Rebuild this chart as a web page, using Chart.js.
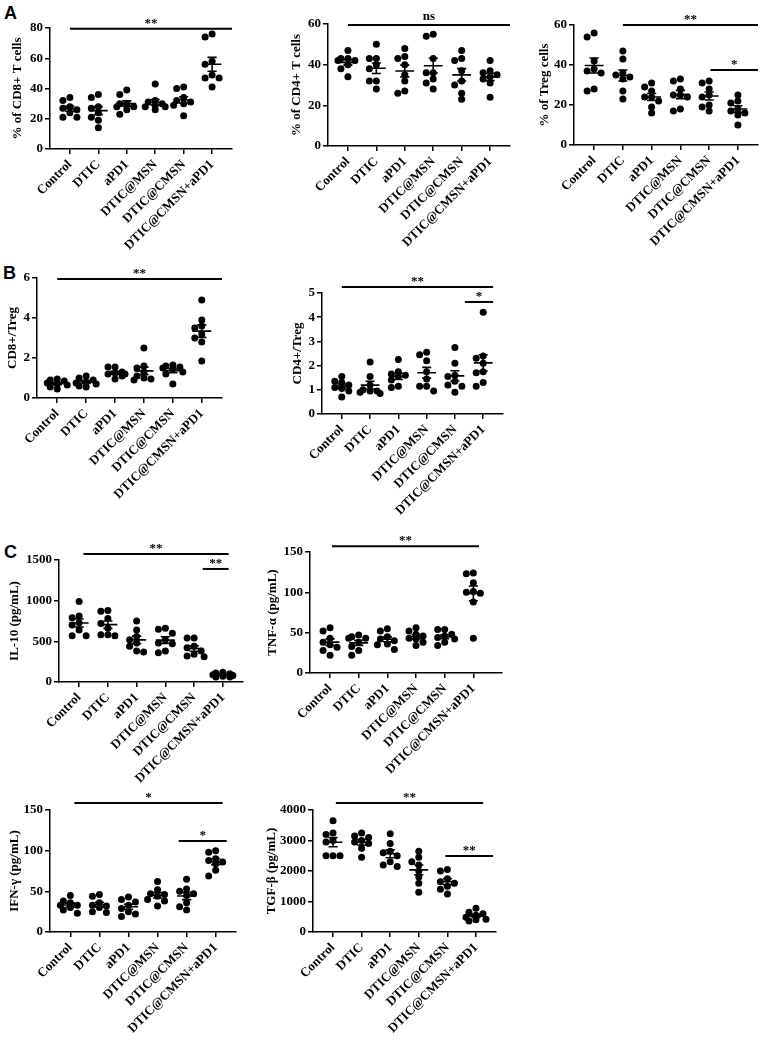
<!DOCTYPE html>
<html>
<head>
<meta charset="utf-8">
<script src="https://cdn.jsdelivr.net/npm/chart.js@4.4.0/dist/chart.umd.min.js"></script>
<style>
  body { margin: 0; background: #fff; width: 766px; height: 1044px; position: relative; overflow: hidden; }
  canvas { position: absolute; }
  .tag { position: absolute; font: bold 18px "Liberation Sans", Arial, sans-serif; line-height: 1; color: #000; }
</style>
</head>
<body>
<div class="tag" style="left:4px;top:4px">A</div>
<div class="tag" style="left:3px;top:264px">B</div>
<div class="tag" style="left:4px;top:543px">C</div>
<script>
const groups = ['Control', 'DTIC', 'aPD1', 'DTIC@MSN', 'DTIC@CMSN', 'DTIC@CMSN+aPD1'];

// A - % of CD8+ T cells
const cd8Values = [
  [34, 32, 28, 27, 26, 24, 21, 21],
  [36, 34, 28, 27, 24, 21, 19, 14],
  [39, 36, 30, 30, 28, 28, 26, 23],
  [43, 32, 31, 30, 29, 28, 28, 26],
  [41, 40, 34, 32, 31, 30, 29, 22],
  [76, 74, 58, 56, 49, 47, 47, 41]
];
const cd8Ticks = [0, 20, 40, 60, 80];
const cd8Sig = [{ from: 1, to: 6.7, at: 79.5, text: '**' }];

// A - % of CD4+ T cells
const cd4Values = [
  [47, 43, 43, 42, 42, 40, 38, 34],
  [50, 43, 43, 40, 38, 32, 32, 28],
  [48, 44, 43, 40, 35, 32, 27, 26],
  [55, 54, 43, 36, 36, 33, 31, 28],
  [47, 43, 42, 37, 32, 30, 26, 23],
  [42, 37, 36, 35, 34, 33, 31, 24]
];
const cd4Ticks = [0, 20, 40, 60];
const cd4Sig = [{ from: 1, to: 6.7, at: 59.5, text: 'ns' }];

// A - % of Treg cells
const tregValues = [
  [56, 54, 42, 38, 37, 36, 28, 27],
  [47, 43, 36, 35, 34, 33, 27, 23],
  [31, 29, 27, 24, 24, 22, 19, 16],
  [33, 32, 28, 25, 25, 24, 18, 17],
  [32, 31, 28, 25, 24, 20, 19, 17],
  [25, 22, 21, 18, 17, 16, 15, 10]
];
const tregTicks = [0, 20, 40, 60];
const tregSig = [
  { from: 2, to: 6.7, at: 60, text: '**' },
  { from: 5.05, to: 6.7, at: 37.5, text: '*' }
];

// B - CD8+/Treg
const cd8TregValues = [
  [0.95, 0.9, 0.85, 0.75, 0.7, 0.65, 0.55, 0.45],
  [1.1, 1.0, 0.9, 0.8, 0.75, 0.7, 0.6, 0.55],
  [1.55, 1.55, 1.3, 1.25, 1.2, 1.2, 1.1, 0.95],
  [2.5, 1.6, 1.5, 1.3, 1.1, 1.0, 0.95, 0.9],
  [1.65, 1.6, 1.55, 1.5, 1.45, 1.3, 1.2, 0.7],
  [4.9, 3.9, 3.6, 3.5, 3.2, 3.0, 2.8, 1.85]
];
const cd8TregTicks = [0, 2, 4, 6];
const cd8TregSig = [{ from: 1, to: 6.7, at: 5.95, text: '**' }];

// B - CD4+/Treg
const cd4TregValues = [
  [1.55, 1.35, 1.3, 1.2, 1.1, 1.05, 0.95, 0.7],
  [2.15, 1.55, 1.2, 1.0, 0.95, 0.95, 0.9, 0.85],
  [2.25, 1.75, 1.65, 1.6, 1.55, 1.4, 1.15, 1.1],
  [2.55, 2.45, 2.2, 1.75, 1.45, 1.15, 1.15, 0.95],
  [2.75, 2.1, 1.6, 1.55, 1.35, 1.2, 1.15, 0.9],
  [4.2, 2.4, 2.3, 2.1, 1.75, 1.7, 1.3, 1.15]
];
const cd4TregTicks = [0, 1, 2, 3, 4, 5];
const cd4TregSig = [
  { from: 1, to: 6.35, at: 5.25, text: '**' },
  { from: 5.35, to: 6.35, at: 4.63, text: '*' }
];

// C - IL-10
const il10Values = [
  [990, 810, 790, 730, 700, 640, 570, 570],
  [880, 870, 780, 720, 660, 580, 580, 570],
  [750, 640, 560, 520, 480, 440, 380, 370],
  [660, 650, 600, 520, 480, 470, 380, 360],
  [540, 540, 440, 420, 380, 340, 320, 310],
  [120, 110, 100, 90, 80, 70, 60, 60]
];
const il10Ticks = [0, 500, 1000, 1500];
const il10Sig = [
  { from: 1.15, to: 6.2, at: 1575, text: '**' },
  { from: 5.3, to: 6.2, at: 1390, text: '**' }
];

// C - TNF-α
const tnfValues = [
  [56, 52, 43, 38, 35, 32, 28, 22],
  [47, 45, 43, 43, 38, 33, 28, 22],
  [55, 52, 45, 42, 40, 36, 35, 29],
  [56, 52, 48, 46, 43, 42, 38, 34],
  [54, 54, 48, 46, 44, 42, 38, 34],
  [124, 123, 112, 101, 100, 99, 88, 43]
];
const tnfTicks = [0, 50, 100, 150];
const tnfSig = [{ from: 1.07, to: 6.2, at: 157, text: '**' }];

// C - IFN-γ
const ifnValues = [
  [45, 38, 36, 33, 33, 30, 27, 23],
  [46, 44, 36, 33, 32, 30, 25, 24],
  [43, 40, 37, 33, 29, 25, 22, 19],
  [62, 52, 47, 46, 44, 40, 38, 32],
  [65, 53, 50, 47, 45, 36, 31, 27],
  [100, 98, 90, 88, 86, 84, 76, 69]
];
const ifnTicks = [0, 50, 100, 150];
const ifnSig = [
  { from: 1.14, to: 6.24, at: 158.6, text: '*' },
  { from: 4.73, to: 6.38, at: 112, text: '*' }
];

// C - TGF-β
const tgfValues = [
  [3650, 3250, 3200, 3000, 2950, 2500, 2500, 2500],
  [3250, 3150, 3100, 3000, 2950, 2900, 2750, 2450],
  [3220, 2900, 2650, 2600, 2500, 2300, 2200, 2150],
  [2650, 2450, 2300, 2200, 2000, 1800, 1600, 1300],
  [2050, 2000, 1750, 1650, 1600, 1500, 1400, 1250],
  [780, 650, 600, 550, 480, 420, 400, 360]
];
const tgfTicks = [0, 1000, 2000, 3000, 4000];
const tgfSig = [
  { from: 1.1, to: 6.25, at: 4230, text: '**' },
  { from: 4.93, to: 6.6, at: 2490, text: '**' }
];

const X_MIN = 0.3, X_MAX = 6.7;
const SERIF = '"Liberation Serif", "Times New Roman", serif';

// where each plot sits on the page (axis corner, right end, top, bottom, title gap)
const panels = [
  { title: '% of CD8+ T cells', values: cd8Values, ticks: cd8Ticks, sig: cd8Sig, box: { x: 50, r: 232, t: 28, b: 149, gap: 32 } },
  { title: '% of CD4+ T cells', values: cd4Values, ticks: cd4Ticks, sig: cd4Sig, box: { x: 328, r: 510, t: 24, b: 146, gap: 31 } },
  { title: '% of Treg cells', values: tregValues, ticks: tregTicks, sig: tregSig, box: { x: 574, r: 758, t: 25, b: 145, gap: 29 } },
  { title: 'CD8+/Treg', values: cd8TregValues, ticks: cd8TregTicks, sig: cd8TregSig, box: { x: 37, r: 222, t: 278, b: 398, gap: 24 } },
  { title: 'CD4+/Treg', values: cd4TregValues, ticks: cd4TregTicks, sig: cd4TregSig, box: { x: 322, r: 503, t: 293, b: 414, gap: 24 } },
  { title: 'IL-10 (pg/mL)', values: il10Values, ticks: il10Ticks, sig: il10Sig, box: { x: 59, r: 243, t: 560, b: 682, gap: 44 } },
  { title: 'TNF-α (pg/mL)', values: tnfValues, ticks: tnfTicks, sig: tnfSig, box: { x: 310, r: 502, t: 552, b: 673, gap: 37, xMax: 7.0 } },
  { title: 'IFN-γ (pg/mL)', values: ifnValues, ticks: ifnTicks, sig: ifnSig, box: { x: 50, r: 236, t: 810, b: 932, gap: 35 } },
  { title: 'TGF-β (pg/mL)', values: tgfValues, ticks: tgfTicks, sig: tgfSig, box: { x: 313, r: 496, t: 810, b: 932, gap: 41 } }
];

// spread points of similar value sideways, like a column scatter
function swarm(vals, pxY) {
  const placed = [];
  const offsets = [0, -7, 7, -10, 10];
  return vals.map(v => {
    const py = v * pxY;
    let best = 0, bestDist = -1;
    for (const dx of offsets) {
      const d = placed.length ? Math.min(...placed.map(p => Math.hypot(p.dx - dx, p.py - py))) : Infinity;
      if (d >= 6) { best = dx; bestDist = d; break; }
      if (d > bestDist) { best = dx; bestDist = d; }
    }
    placed.push({ dx: best, py });
    return best;
  });
}

const meanSem = {
  id: 'meanSem',
  afterDatasetsDraw(chart, args, opts) {
    const { ctx, scales: { x, y } } = chart;
    ctx.save();
    ctx.strokeStyle = '#000';
    ctx.lineWidth = 1.6;
    opts.values.forEach((vals, i) => {
      const n = vals.length;
      const m = vals.reduce((a, b) => a + b, 0) / n;
      const sd = Math.sqrt(vals.reduce((a, b) => a + (b - m) ** 2, 0) / (n - 1));
      const sem = sd / Math.sqrt(n);
      const c = i + 1;
      const cx = x.getPixelForValue(c);
      const yHi = y.getPixelForValue(m + sem), yLo = y.getPixelForValue(m - sem), yM = y.getPixelForValue(m);
      ctx.beginPath();
      ctx.moveTo(x.getPixelForValue(c - 0.33), yM);
      ctx.lineTo(x.getPixelForValue(c + 0.33), yM);
      ctx.moveTo(cx, yHi);
      ctx.lineTo(cx, yLo);
      ctx.moveTo(x.getPixelForValue(c - 0.16), yHi);
      ctx.lineTo(x.getPixelForValue(c + 0.16), yHi);
      ctx.moveTo(x.getPixelForValue(c - 0.16), yLo);
      ctx.lineTo(x.getPixelForValue(c + 0.16), yLo);
      ctx.stroke();
    });
    ctx.restore();
  }
};

const sigBars = {
  id: 'sigBars',
  afterDraw(chart, args, opts) {
    const { ctx, scales: { x, y } } = chart;
    ctx.save();
    ctx.strokeStyle = '#000';
    ctx.fillStyle = '#000';
    ctx.lineWidth = 2;
    ctx.font = 'bold 13px ' + SERIF;
    ctx.textAlign = 'center';
    ctx.textBaseline = 'alphabetic';
    opts.marks.forEach(s => {
      const x1 = x.getPixelForValue(s.from), x2 = x.getPixelForValue(s.to), py = y.getPixelForValue(s.at);
      ctx.beginPath();
      ctx.moveTo(x1, py);
      ctx.lineTo(x2, py);
      ctx.stroke();
      ctx.fillText(s.text, (x1 + x2) / 2, py - (s.text === 'ns' ? 5 : 2));
    });
    ctx.restore();
  }
};

function makeChart(p) {
  const b = p.box;
  const xMax = b.xMax || X_MAX;
  const yW = b.gap + 8;
  const padTop = 30, padRight = 10, xH = 110;
  const plotW = b.r - b.x, plotH = b.b - b.t;
  const W = yW + plotW + padRight, H = padTop + plotH + xH;
  const cv = document.createElement('canvas');
  cv.width = W;
  cv.height = H;
  cv.style.left = (b.x - yW) + 'px';
  cv.style.top = (b.t - padTop) + 'px';
  cv.style.width = W + 'px';
  cv.style.height = H + 'px';
  document.body.appendChild(cv);

  const yMax = p.ticks[p.ticks.length - 1];
  const pxX = plotW / (xMax - X_MIN), pxY = plotH / yMax;
  const pts = [];
  p.values.forEach((vals, gi) => {
    swarm(vals, pxY).forEach((dx, k) => pts.push({ x: gi + 1 + dx / pxX, y: vals[k] }));
  });

  const font = { family: SERIF, weight: 'bold', size: 13 };
  new Chart(cv, {
    type: 'scatter',
    data: { datasets: [{ data: pts, backgroundColor: '#000', borderColor: '#000', borderWidth: 0, pointRadius: 3.5 }] },
    options: {
      responsive: false,
      animation: false,
      events: [],
      layout: { padding: { top: padTop, right: padRight, left: 0, bottom: 0 } },
      plugins: {
        legend: { display: false },
        tooltip: { enabled: false },
        meanSem: { values: p.values },
        sigBars: { marks: p.sig }
      },
      scales: {
        x: {
          type: 'linear',
          min: X_MIN,
          max: xMax,
          afterBuildTicks: s => { s.ticks = groups.map((g, i) => ({ value: i + 1 })); },
          afterFit: s => { s.height = xH; s.paddingLeft = 0; s.paddingRight = 0; },
          ticks: { autoSkip: false, minRotation: 45, maxRotation: 45, color: '#000', font, padding: 3,
                   callback: (v, i) => groups[i] },
          grid: { display: true, drawOnChartArea: false, drawTicks: true, tickLength: 5, color: '#000', lineWidth: 1.5 },
          border: { display: true, color: '#000', width: 1.5 }
        },
        y: {
          min: 0,
          max: yMax,
          afterBuildTicks: s => { s.ticks = p.ticks.map(v => ({ value: v })); },
          afterFit: s => { s.width = yW; s.paddingTop = 0; s.paddingBottom = 0; },
          ticks: { color: '#000', font, padding: 2, callback: v => String(v) },
          grid: { display: true, drawOnChartArea: false, drawTicks: true, tickLength: 5, color: '#000', lineWidth: 1.5 },
          border: { display: true, color: '#000', width: 1.5 },
          title: { display: true, text: p.title, color: '#000', font, padding: 0 }
        }
      }
    },
    plugins: [meanSem, sigBars]
  });
}

panels.forEach(makeChart);
</script>
</body>
</html>
